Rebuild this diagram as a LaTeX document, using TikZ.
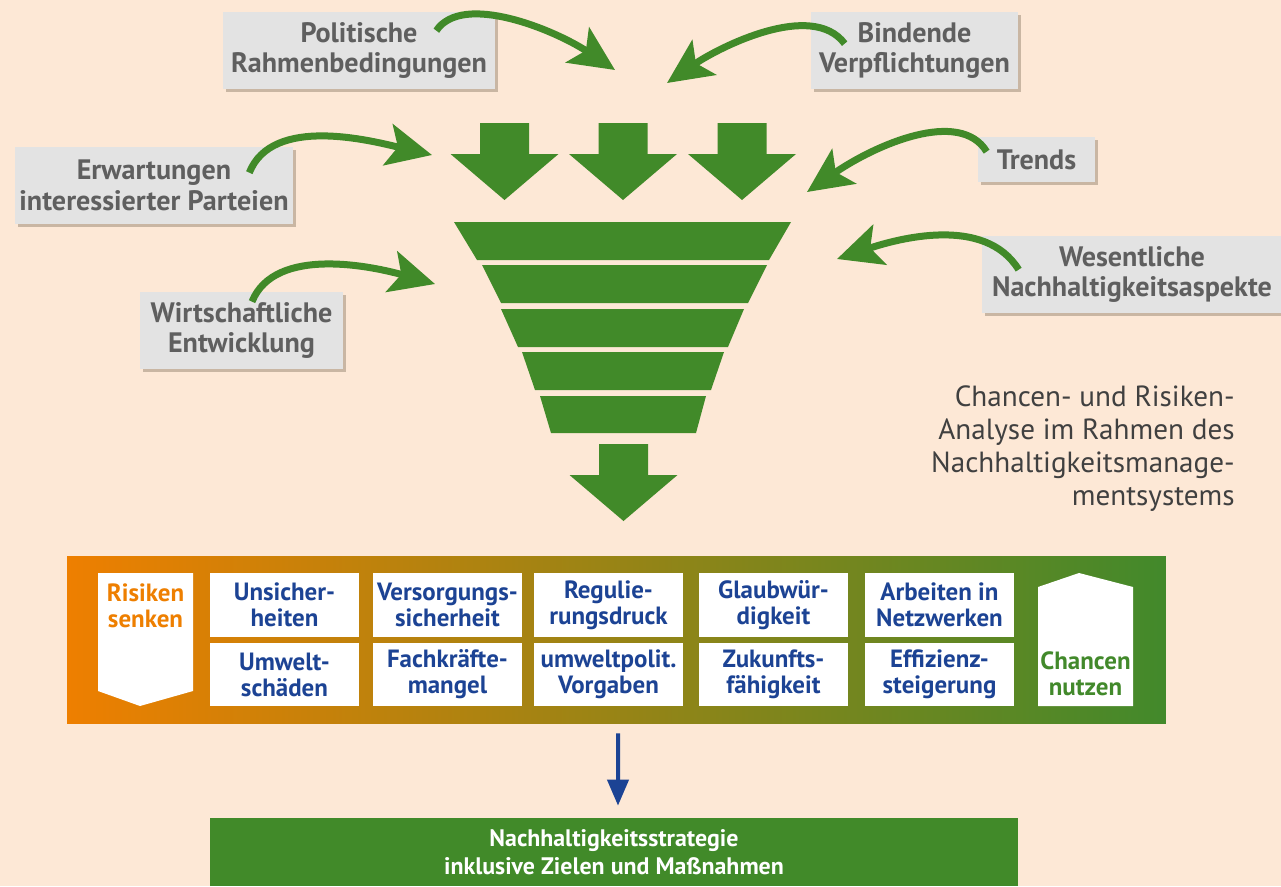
\documentclass[tikz,border=0pt]{standalone}
\usepackage{fontspec}
\setmainfont{PT Sans}
\usetikzlibrary{arrows.meta,shadows}
\definecolor{bgpeach}{HTML}{FDE8D6}
\definecolor{boxgray}{HTML}{E3E3E3}
\definecolor{shadowbrown}{HTML}{C9B6A3}
\definecolor{labelgray}{HTML}{5F5F5F}
\definecolor{funnelgreen}{HTML}{418A29}
\definecolor{riskorange}{HTML}{EE7F00}
\definecolor{bandolive}{HTML}{A08C18}
\definecolor{chancegreen}{HTML}{42892B}
\definecolor{blocktext}{HTML}{1C4394}
\definecolor{analysisgray}{HTML}{404040}
\tikzset{
  factor/.style={fill=boxgray, text=labelgray, font=\bfseries\fontsize{16}{17.6}\selectfont,
    align=center, inner sep=0pt, minimum height=1.54cm,
    drop shadow={shadow xshift=0.06cm, shadow yshift=-0.06cm, fill=shadowbrown, opacity=1}},
  curvearrow/.style={draw=funnelgreen, line width=0.14cm,
    -{Stealth[length=0.9cm, width=0.84cm, inset=0.2cm]}},
  topic/.style={fill=white, text=blocktext, font=\bfseries\fontsize{14.2}{14.8}\selectfont,
    align=center, minimum width=2.98cm, minimum height=1.27cm, inner sep=0pt},
  sidetext/.style={font=\bfseries\fontsize{14.2}{14.8}\selectfont, align=center, inner sep=0pt},
  blockarrow/.pic={\fill[funnelgreen] (-24.5,0) -- (24.5,0) -- (24.5,31) -- (54,31) -- (0,77)
    -- (-54,31) -- (-24.5,31) -- cycle;}
}

\begin{document}
\begin{tikzpicture}[x=0.02cm, y=-0.02cm]
\fill[bgpeach] (0,0) rectangle (1281,886);
\clip (0,0) rectangle (1281,886);

\node[factor, minimum width=5.44cm] (pol) at (359,50.5) {Politische\\Rahmenbedingungen};
\node[factor, minimum width=4.14cm] (bind) at (914.5,50.5) {Bindende\\Verpflichtungen};
\node[factor, minimum width=5.56cm] (erw) at (154,185.5) {Erwartungen\\interessierter Parteien};
\node[factor, minimum width=2.34cm, minimum height=0.9cm] (trends) at (1036.5,159.5) {Trends};
\node[factor, minimum width=6.0cm] (wes) at (1132,274.5) {Wesentliche\\Nachhaltigkeitsaspekte};
\node[factor, minimum width=4.06cm] (wirt) at (241.5,330.5) {Wirtschaftliche\\Entwicklung};

\coordinate (pol-s) at ([shift={(-59,19)}]pol.north east);
\coordinate (bind-s) at ([shift={(34,32)}]bind.north west);
\coordinate (erw-s) at ([shift={(-44,26)}]erw.north east);
\coordinate (trends-s) at ([shift={(9,15)}]trends.north west);
\coordinate (wes-s) at ([shift={(37,34)}]wes.north west);
\coordinate (wirt-s) at ([shift={(10.5,10)}]wirt.north);
\coordinate (pol-e) at (615,70);
\coordinate (bind-e) at (667,83);
\coordinate (erw-e) at (432,155);
\coordinate (trends-e) at (807,192);
\coordinate (wes-e) at (837,259);
\coordinate (wirt-e) at (435,284);

\draw[curvearrow] (pol-s) .. controls +(26,-39) and +(-60,-40) .. (pol-e);
\draw[curvearrow] (bind-s) .. controls +(-33,-44) and +(51,-35) .. (bind-e);
\draw[curvearrow] (erw-s) .. controls +(23,-58) and +(-60,-14) .. (erw-e);
\draw[curvearrow] (wirt-s) .. controls +(23,-57) and +(-60,-17) .. (wirt-e);
\draw[curvearrow] (trends-s) .. controls +(-27,-44) and +(68,-47) .. (trends-e);
\draw[curvearrow] (wes-s) .. controls +(-34,-55) and +(60,-20) .. (wes-e);

\pic at (504.5,123) {blockarrow};
\pic at (623,123) {blockarrow};
\pic at (742,123) {blockarrow};
\foreach \ya/\la/\ra/\yb/\lb/\rb in {222/454/791/260/477/769, 265/482/767/303/501/748,
    309/501/744/347/518/728, 352/522/724/390/535/711, 396/540/706/433/551/696}
  \fill[funnelgreen] (\la,\ya) -- (\ra,\ya) -- (\rb,\yb) -- (\lb,\yb) -- cycle;
\pic at (623.5,444) {blockarrow};

\node[anchor=east, align=right, inner sep=0pt, text=analysisgray,
  font=\fontsize{16.6}{18.8}\selectfont] (analysis) at (1235,449)
  {Chancen- und Risiken-\\Analyse im Rahmen des\\Nachhaltigkeitsmanage-\\mentsystems};

\node[minimum width=21.98cm, minimum height=3.36cm, inner sep=0pt, left color=riskorange,
  middle color=bandolive, right color=chancegreen] (band) at (616.5,640) {};
\fill[white] (98,573) -- (193,573) -- (193,691) -- (140,706) -- (98,691) -- cycle;
\node[sidetext, text=riskorange] (risk) at (145.5,606) {Risiken\\senken};
\fill[white] (1038,587) -- (1079,573) -- (1133,587) -- (1133,706) -- (1038,706) -- cycle;
\node[sidetext, text=chancegreen] (chance) at (1085.5,674) {Chancen\\nutzen};

\foreach \i/\x/\a/\b in {1/284.5/Unsicher-/heiten, 2/447.5/Versorgungs-/sicherheit,
    3/608.5/Regulie-/rungsdruck, 4/773.5/Glaubwür-/digkeit, 5/939.5/Arbeiten in/Netzwerken}
  \node[topic] (top-\i) at (\x,605) {\a\\\b};
\foreach \i/\x/\a/\b in {1/284.5/Umwelt-/schäden, 2/447.5/Fachkräfte-/mangel,
    3/608.5/umweltpolit./Vorgaben, 4/773.5/Zukunfts-/fähigkeit, 5/939.5/Effizienz-/steigerung}
  \node[topic] (bot-\i) at (\x,674.5) {\a\\\b};

\node[fill=funnelgreen, text=white, font=\bfseries\fontsize{13.6}{16}\selectfont, align=center,
  minimum width=16.16cm, minimum height=1.36cm, inner sep=0pt] (strat) at (614,852)
  {Nachhaltigkeitsstrategie\\inklusive Zielen und Maßnahmen};

\draw[draw=blocktext, line width=0.08cm, -{Triangle[length=0.52cm, width=0.42cm]}]
  ([xshift=0.03cm, yshift=-0.18cm]band.south) -- ([xshift=0.08cm, yshift=0.24cm]strat.north);
\end{tikzpicture}
\end{document}
